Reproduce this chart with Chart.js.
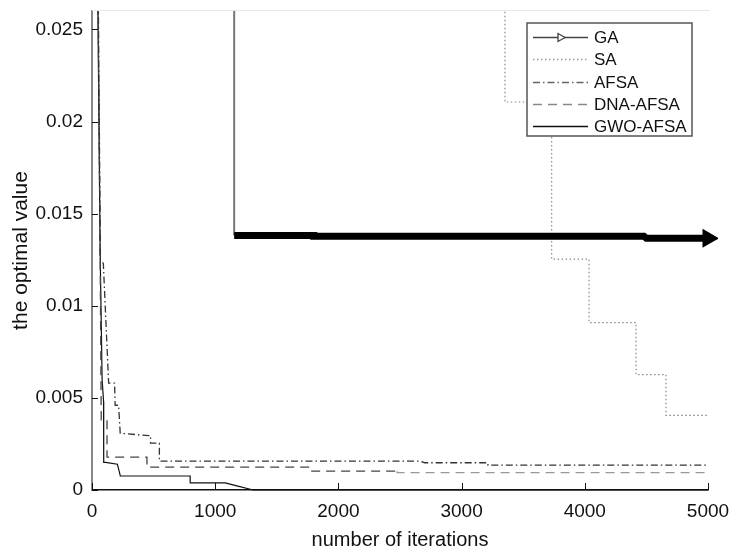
<!DOCTYPE html>
<html>
<head>
<meta charset="utf-8">
<script src="https://cdn.jsdelivr.net/npm/chart.js@4"></script>
<style>
  body { margin: 0; background: #fff; }
  canvas { display: block; }
</style>
</head>
<body>
<canvas id="convergenceChart" width="729" height="552"></canvas>
<script>
// Values (iteration, optimal value)
const seriesNames = ["GA", "SA", "AFSA", "DNA-AFSA", "GWO-AFSA"];

const gaIter = [1, 1154, 1154, 1800, 1800, 4480, 4500, 5000];
const gaValue = [0.06, 0.06, 0.01382, 0.01382, 0.01378, 0.01378, 0.01366, 0.01366];

const saIter = [1, 3352, 3352, 3731, 3731, 4034, 4034, 4416, 4416, 4659, 4659, 5000];
const saValue = [0.06, 0.06, 0.02106, 0.02106, 0.01253, 0.01253, 0.00909, 0.00909, 0.00626, 0.00626, 0.00405, 0.00405];

const afsaIter = [1, 52, 68, 92, 135, 183, 188, 216, 229, 460, 475, 475, 547, 547, 2662, 2700, 3214, 3214, 5000];
const afsaValue = [0.08, 0.026, 0.0125, 0.0123, 0.0058, 0.0058, 0.0046, 0.0046, 0.00308, 0.00295, 0.00295, 0.00254, 0.00254, 0.00157, 0.00157, 0.00148, 0.00148, 0.00135, 0.00135];

const dnaIter = [1, 50, 66, 75, 122, 122, 446, 446, 1769, 1769, 2476, 2476, 5000];
const dnaValue = [0.08, 0.026, 0.013, 0.0038, 0.0038, 0.00178, 0.00178, 0.00124, 0.00124, 0.00102, 0.00102, 0.00094, 0.00094];

const gwoIter = [1, 48, 66, 82, 94, 95, 110, 206, 230, 797, 797, 1081, 1176, 1308, 5000];
const gwoValue = [0.08, 0.026, 0.013, 0.006, 0.0048, 0.0015, 0.0015, 0.0014, 0.00076, 0.00076, 0.00039, 0.00039, 0.00022, 0, 0];

const xTicks = [0, 1000, 2000, 3000, 4000, 5000];
const yTicks = [0, 0.005, 0.01, 0.015, 0.02, 0.025];
const yTickLabels = ["0", "0.005", "0.01", "0.015", "0.02", "0.025"];

const toPoints = (xs, ys) => xs.map((x, i) => ({ x: x, y: ys[i] }));
const FONT = "'Liberation Sans', Arial, sans-serif";

// keep the plot box where the figure has it, ignore label overhang
const noOverhang = (s) => {
  s.paddingTop = 0;
  s.paddingBottom = 0;
  s.paddingLeft = 0;
  s.paddingRight = 0;
};

// inward tick marks + faint top frame line (matlab look)
const innerTicks = {
  id: "innerTicks",
  afterDatasetsDraw(chart) {
    const { ctx, chartArea, scales } = chart;
    ctx.save();
    ctx.strokeStyle = "#e8e8e8";
    ctx.lineWidth = 1;
    ctx.beginPath();
    ctx.moveTo(chartArea.left, chartArea.top - 0.5);
    ctx.lineTo(chartArea.right + 2, chartArea.top - 0.5);
    ctx.stroke();

    ctx.strokeStyle = "#111";
    ctx.lineWidth = 1;
    yTicks.forEach((v) => {
      const y = Math.round(scales.y.getPixelForValue(v)) + 0.5;
      ctx.beginPath();
      ctx.moveTo(chartArea.left, y);
      ctx.lineTo(chartArea.left + 6, y);
      ctx.stroke();
    });
    xTicks.forEach((v) => {
      const x = Math.round(scales.x.getPixelForValue(v)) + 0.5;
      ctx.beginPath();
      ctx.moveTo(x, chartArea.bottom);
      ctx.lineTo(x, chartArea.bottom - 7);
      ctx.stroke();
    });
    ctx.restore();
  },
};

// boxed legend inside the axes, top right
const boxLegend = {
  id: "boxLegend",
  afterDraw(chart) {
    const { ctx } = chart;
    const bx = 527, by = 23, bw = 165, bh = 113;
    ctx.save();
    ctx.fillStyle = "#fff";
    ctx.fillRect(bx, by, bw, bh);
    ctx.strokeStyle = "#555";
    ctx.lineWidth = 1.5;
    ctx.strokeRect(bx, by, bw, bh);
    ctx.font = "17px " + FONT;
    ctx.textBaseline = "middle";
    chart.data.datasets.forEach((ds, i) => {
      const y = Math.round(by + 14 + i * 22.3) + 0.5;
      ctx.strokeStyle = ds.legendColor;
      ctx.lineWidth = 1.3;
      ctx.setLineDash(ds.borderDash || []);
      ctx.beginPath();
      ctx.moveTo(bx + 6, y);
      ctx.lineTo(bx + 61, y);
      ctx.stroke();
      ctx.setLineDash([]);
      if (i === 0) {
        ctx.fillStyle = "#fff";
        ctx.beginPath();
        ctx.moveTo(bx + 31, y - 4);
        ctx.lineTo(bx + 38, y);
        ctx.lineTo(bx + 31, y + 4);
        ctx.closePath();
        ctx.fill();
        ctx.stroke();
      }
      ctx.fillStyle = "#111";
      ctx.fillText(seriesNames[i], bx + 67, y + 1);
    });
    ctx.restore();
  },
};

const gaLast = gaIter.length - 1;

new Chart(document.getElementById("convergenceChart").getContext("2d"), {
  type: "line",
  data: {
    datasets: [
      {
        label: seriesNames[0],
        data: toPoints(gaIter, gaValue),
        borderColor: "#000",
        legendColor: "#444",
        borderWidth: 7,
        segment: {
          borderWidth: (c) => (c.p0DataIndex < 2 ? 2 : 7),
          borderColor: (c) => (c.p0DataIndex < 2 ? "#777" : "#000"),
        },
        pointStyle: "triangle",
        rotation: 90,
        pointRadius: (c) => (c.dataIndex === gaLast ? 4 : 0),
        pointBackgroundColor: "#000",
        pointBorderColor: "#000",
        clip: { left: 0, top: 0, right: 10, bottom: 0 },
      },
      {
        label: seriesNames[1],
        data: toPoints(saIter, saValue),
        borderColor: "#888",
        legendColor: "#999",
        borderWidth: 1.2,
        borderDash: [1.5, 2.5],
        pointRadius: 0,
        clip: { left: 0, top: 0, right: 2, bottom: 2 },
      },
      {
        label: seriesNames[2],
        data: toPoints(afsaIter, afsaValue),
        borderColor: "#333",
        legendColor: "#666",
        borderWidth: 1.3,
        borderDash: [7, 3, 1.5, 3],
        pointRadius: 0,
        clip: { left: 0, top: 0, right: 2, bottom: 2 },
      },
      {
        label: seriesNames[3],
        data: toPoints(dnaIter, dnaValue),
        borderColor: "#444",
        legendColor: "#888",
        borderWidth: 1.3,
        borderDash: [9, 6],
        segment: {
          borderColor: (c) => (c.p0.parsed.x >= 2476 ? "#999" : "#444"),
        },
        pointRadius: 0,
        clip: { left: 0, top: 0, right: 2, bottom: 2 },
      },
      {
        label: seriesNames[4],
        data: toPoints(gwoIter, gwoValue),
        borderColor: "#111",
        legendColor: "#111",
        borderWidth: 1.2,
        pointRadius: 0,
        clip: { left: 0, top: 0, right: 2, bottom: 2 },
      },
    ],
  },
  options: {
    responsive: false,
    animation: false,
    layout: { padding: { left: 0, right: 21, top: 8, bottom: 0 } },
    plugins: {
      legend: { display: false },
      tooltip: { enabled: false },
    },
    scales: {
      x: {
        type: "linear",
        min: 0,
        max: 5000,
        afterBuildTicks: (s) => { s.ticks = xTicks.map((v) => ({ value: v })); },
        afterFit: (s) => { s.height = 62; noOverhang(s); },
        grid: { display: true, drawOnChartArea: false, drawTicks: false },
        border: { display: true, color: "#111", width: 1.5 },
        ticks: {
          color: "#111",
          padding: 10,
          maxRotation: 0,
          font: { family: FONT, size: 19 },
          callback: (v) => String(v),
        },
        title: {
          display: true,
          text: "number of iterations",
          color: "#111",
          padding: { top: 0, bottom: 0 },
          font: { family: FONT, size: 20 },
        },
      },
      y: {
        type: "linear",
        min: 0,
        max: 0.026,
        afterBuildTicks: (s) => { s.ticks = yTicks.map((v) => ({ value: v })); },
        afterFit: (s) => { s.width = 92; noOverhang(s); },
        grid: { display: true, drawOnChartArea: false, drawTicks: false },
        border: { display: true, color: "#888", width: 2 },
        ticks: {
          color: "#111",
          padding: 9,
          font: { family: FONT, size: 19 },
          callback: (v) => yTickLabels[yTicks.indexOf(v)] ?? "",
        },
        title: {
          display: true,
          text: "the optimal value",
          color: "#111",
          padding: { top: 9, bottom: 0 },
          font: { family: FONT, size: 21 },
        },
      },
    },
  },
  plugins: [innerTicks, boxLegend],
});
</script>
</body>
</html>
